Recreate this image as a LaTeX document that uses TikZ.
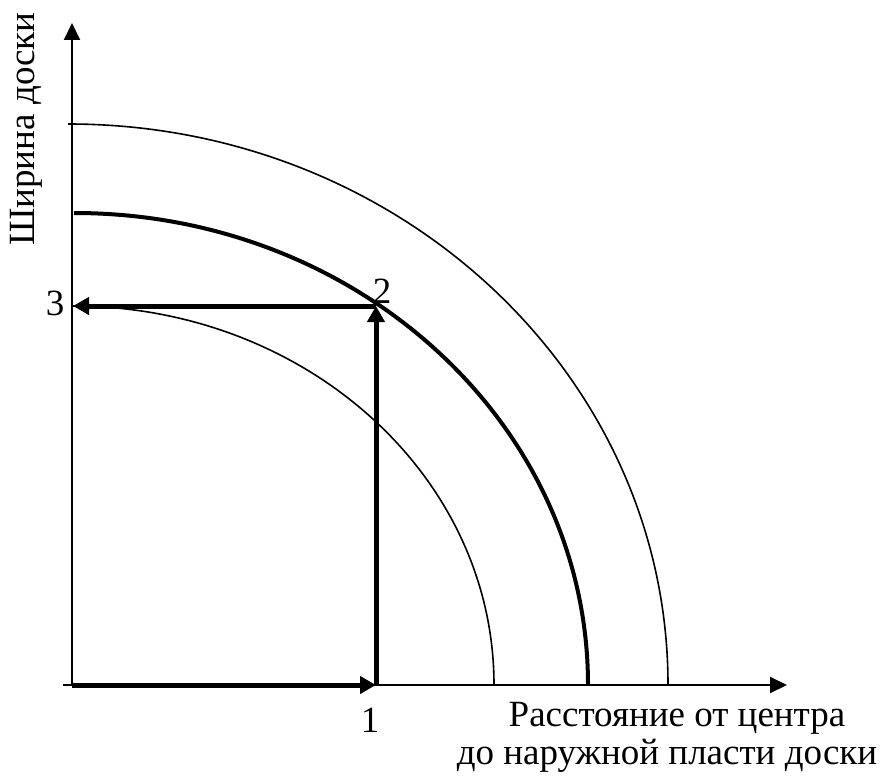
\documentclass[tikz,border=0pt]{standalone}
\usepackage{fontspec}
\setmainfont{Liberation Serif}
\usetikzlibrary{arrows.meta}
\begin{document}
\begin{tikzpicture}[x=1pt,y=-1pt,
  axis/.style={line width=2pt,-{Triangle[length=17pt,width=16pt]}},
  thin/.style={line width=1.6pt},
  thick/.style={line width=4pt},
  bold/.style={line width=5pt,-{Triangle[length=16pt,width=17pt]}},
  lbl/.style={font=\fontsize{37}{44}\selectfont,inner sep=0pt}]
\useasboundingbox (0,0) rectangle (891,778);
\coordinate (O) at (72,685);
\coordinate (Xs) at (63,685);
\coordinate (Xe) at (787,685);
\coordinate (Ye) at (72,23);
\coordinate (P1) at (376,685);
\coordinate (P2) at (376,306);
\coordinate (P3) at (73,306);
\draw[axis] (Xs) -- (Xe);
\draw[axis] (O) -- (Ye);
% arcs
\draw[thin] (P3) arc[start angle=-90,end angle=0,x radius=421,y radius=379];
\draw[thick] (74,213) arc[start angle=-90,end angle=0,x radius=514,y radius=472];
\draw[thin] (68,124) arc[start angle=-90,end angle=0,x radius=600,y radius=561];
% arrows
\draw[bold] (O) -- (P1);
\draw[bold] (P1) -- (P2);
\draw[bold] (P2) -- (P3);
% labels
\node[lbl] (l1) at (370,720) {1};
\node[lbl] (l2) at (382,291) {2};
\node[lbl] (l3) at (55,303) {3};
\node[lbl,rotate=90] (ly) at (26,129) {Ширина доски};
\node[lbl] (lx1) at (677,718) {Расстояние от центра};
\node[lbl] (lx2) at (667,756) {до наружной пласти доски};
\end{tikzpicture}
\end{document}
